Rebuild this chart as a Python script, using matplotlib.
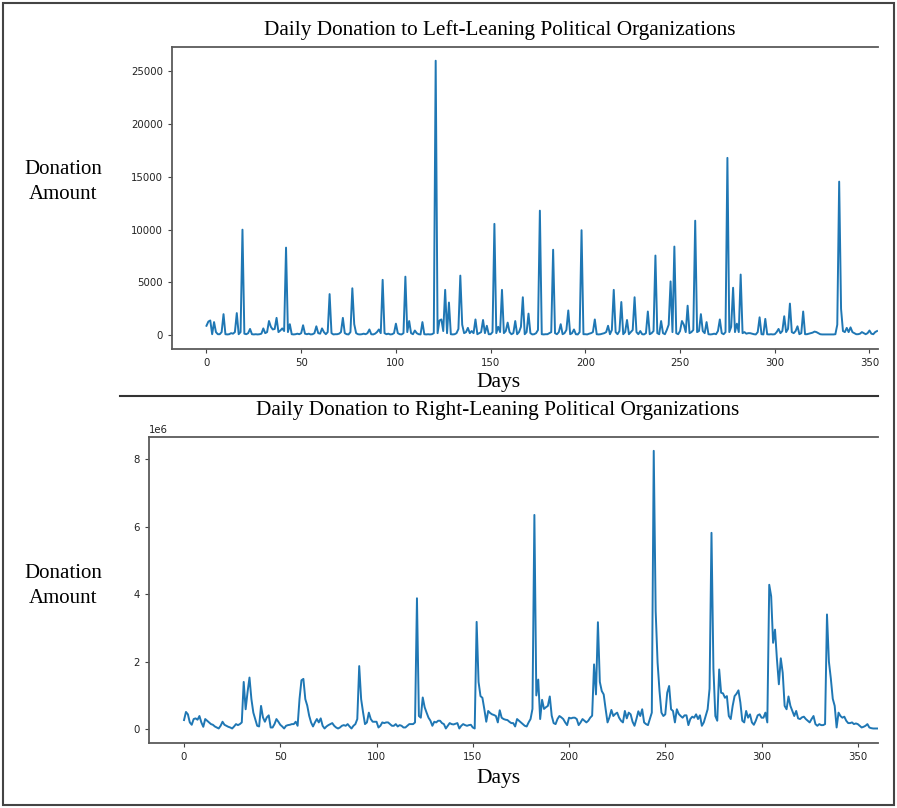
import numpy as np
import matplotlib
matplotlib.use("Agg")
import matplotlib.pyplot as plt
from matplotlib.lines import Line2D
from matplotlib.patches import Rectangle

# daily donations, left-leaning organisations (days 0..354, dollars)
left_donations = [
    900, 1300, 1400, 100, 1250, 300, 100, 100, 300, 2000,
    100, 80, 100, 200, 150, 300, 2100, 100, 300, 10000,
    150, 100, 200, 600, 100, 80, 100, 80, 100, 150,
    650, 200, 300, 1350, 800, 550, 600, 1650, 300, 450,
    650, 400, 8300, 300, 1050, 100, 80, 100, 150, 100,
    200, 950, 150, 100, 150, 80, 100, 200, 850, 200,
    150, 650, 300, 100, 300, 3900, 200, 80, 100, 100,
    150, 300, 1650, 200, 100, 80, 300, 4450, 1050, 200,
    100, 80, 100, 150, 100, 200, 550, 100, 80, 150,
    300, 550, 200, 5250, 200, 100, 150, 80, 100, 200,
    1100, 200, 100, 80, 200, 5550, 300, 1350, 200, 100,
    450, 200, 100, 80, 1250, 100, 80, 100, 80, 100,
    200, 26000, 200, 1400, 1500, 400, 4300, 200, 3100, 100,
    80, 100, 200, 600, 5650, 1000, 200, 300, 700, 200,
    400, 200, 1500, 100, 200, 300, 1450, 200, 900, 100,
    100, 300, 10550, 200, 800, 300, 4300, 200, 400, 1200,
    300, 100, 200, 1350, 100, 300, 800, 3600, 100, 300,
    2050, 200, 80, 100, 200, 500, 11800, 100, 80, 100,
    100, 200, 300, 8100, 200, 100, 300, 1050, 100, 200,
    500, 2350, 100, 200, 550, 100, 80, 300, 9950, 100,
    100, 80, 150, 200, 300, 1500, 100, 80, 100, 150,
    200, 300, 900, 100, 500, 4300, 300, 100, 400, 3150,
    100, 300, 1450, 100, 300, 500, 3600, 300, 100, 400,
    100, 80, 200, 2250, 100, 200, 400, 7550, 200, 100,
    1350, 200, 100, 500, 1000, 5100, 300, 8400, 200, 100,
    400, 1350, 1000, 300, 2800, 200, 300, 500, 10850, 300,
    400, 2000, 400, 200, 1250, 100, 80, 100, 150, 100,
    400, 1500, 200, 100, 300, 16800, 300, 800, 4500, 300,
    1100, 300, 5750, 200, 300, 150, 200, 200, 150, 100,
    80, 300, 1700, 100, 80, 1550, 100, 80, 100, 80,
    100, 300, 600, 200, 400, 1800, 300, 600, 3000, 300,
    200, 400, 850, 100, 200, 2250, 100, 100, 150, 200,
    250, 350, 300, 200, 100, 80, 80, 80, 80, 80,
    80, 80, 100, 1000, 14550, 2500, 400, 300, 700, 300,
    750, 300, 200, 100, 100, 150, 300, 200, 100, 200,
    450, 150, 100, 300, 400,
]

# daily donations, right-leaning organisations (days 0..360, millions of dollars)
right_donations_m = [
    0.27, 0.51, 0.44, 0.20, 0.13, 0.30, 0.32, 0.28, 0.39, 0.20,
    0.07, 0.30, 0.25, 0.20, 0.15, 0.13, 0.08, 0.05, 0.02, 0.10,
    0.22, 0.13, 0.10, 0.07, 0.05, 0.02, 0.08, 0.15, 0.12, 0.15,
    0.20, 1.40, 0.59, 1.10, 1.53, 0.89, 0.49, 0.30, 0.10, 0.08,
    0.69, 0.35, 0.22, 0.35, 0.41, 0.05, 0.05, 0.15, 0.30, 0.22,
    0.13, 0.08, 0.02, 0.10, 0.12, 0.13, 0.15, 0.15, 0.22, 0.10,
    0.90, 1.45, 1.49, 0.89, 0.70, 0.40, 0.20, 0.08, 0.20, 0.30,
    0.20, 0.32, 0.10, 0.02, 0.08, 0.12, 0.15, 0.18, 0.10, 0.05,
    0.02, 0.05, 0.10, 0.12, 0.10, 0.15, 0.08, 0.02, 0.10, 0.15,
    0.30, 1.87, 0.89, 0.50, 0.15, 0.20, 0.49, 0.30, 0.22, 0.22,
    0.22, 0.05, 0.10, 0.20, 0.18, 0.20, 0.20, 0.15, 0.10, 0.10,
    0.15, 0.08, 0.12, 0.10, 0.05, 0.05, 0.10, 0.15, 0.15, 0.15,
    0.20, 3.88, 0.39, 0.34, 0.94, 0.65, 0.49, 0.34, 0.25, 0.10,
    0.22, 0.20, 0.25, 0.25, 0.18, 0.15, 0.02, 0.10, 0.18, 0.15,
    0.14, 0.16, 0.18, 0.02, 0.10, 0.15, 0.12, 0.10, 0.12, 0.13,
    0.05, 0.02, 3.18, 1.40, 0.98, 0.93, 0.59, 0.22, 0.54, 0.48,
    0.44, 0.42, 0.39, 0.20, 0.56, 0.34, 0.30, 0.28, 0.27, 0.22,
    0.18, 0.18, 0.08, 0.30, 0.25, 0.20, 0.15, 0.10, 0.08, 0.20,
    0.30, 0.60, 6.35, 1.00, 1.47, 0.30, 0.87, 0.60, 0.65, 0.69,
    0.97, 0.40, 0.18, 0.15, 0.30, 0.39, 0.35, 0.30, 0.20, 0.12,
    0.34, 0.32, 0.34, 0.34, 0.30, 0.12, 0.20, 0.30, 0.25, 0.20,
    0.25, 0.34, 0.40, 1.92, 1.03, 3.17, 1.40, 1.13, 1.03, 0.60,
    0.20, 0.35, 0.57, 0.39, 0.45, 0.49, 0.34, 0.25, 0.20, 0.54,
    0.32, 0.49, 0.44, 0.22, 0.10, 0.30, 0.53, 0.39, 0.59, 0.20,
    0.15, 0.12, 0.30, 0.49, 8.25, 3.50, 1.97, 1.13, 0.49, 0.39,
    0.44, 1.08, 1.28, 0.59, 0.54, 0.20, 0.59, 0.45, 0.39, 0.34,
    0.41, 0.41, 0.12, 0.30, 0.37, 0.34, 0.44, 0.30, 0.41, 0.10,
    0.20, 0.39, 0.59, 1.20, 5.82, 1.80, 0.39, 0.25, 1.77, 1.08,
    1.06, 0.93, 0.98, 0.39, 0.30, 0.69, 0.98, 1.05, 1.15, 0.79,
    0.25, 0.20, 0.54, 0.34, 0.44, 0.20, 0.13, 0.25, 0.41, 0.44,
    0.34, 0.34, 0.49, 0.20, 4.28, 3.94, 2.56, 2.95, 2.07, 1.33,
    2.10, 1.67, 0.69, 0.59, 0.97, 0.69, 0.54, 0.39, 0.54, 0.32,
    0.30, 0.35, 0.37, 0.30, 0.25, 0.20, 0.30, 0.39, 0.15, 0.10,
    0.15, 0.12, 0.12, 0.15, 3.40, 2.00, 1.50, 0.90, 0.69, 0.05,
    0.49, 0.39, 0.34, 0.37, 0.25, 0.18, 0.18, 0.20, 0.15, 0.17,
    0.15, 0.10, 0.05, 0.07, 0.10, 0.15, 0.05, 0.03, 0.02, 0.02, 0.02,
]

x_ticks = [0, 50, 100, 150, 200, 250, 300, 350]
left_yticks = [0, 5000, 10000, 15000, 20000, 25000]
right_yticks = [0, 2e6, 4e6, 6e6, 8e6]

W, H = 897, 808
SERIF = "Liberation Serif"


def box(l, t, r, b):
    # pixel box -> figure fraction rect
    return [l / W, 1 - b / H, (r - l) / W, (b - t) / H]


fig = plt.figure(figsize=(W / 100, H / 100), dpi=100)

ax1 = fig.add_axes(box(172, 47, 878, 349))
ax2 = fig.add_axes(box(149, 437, 878, 743))

ax1.plot(np.arange(len(left_donations)), left_donations, color="#1f77b4", lw=1.4)
ax2.plot(np.arange(len(right_donations_m)), np.array(right_donations_m) * 1e6,
         color="#1f77b4", lw=1.4)

ax1.set_xlim(-18.2, 354.5)
ax1.set_ylim(-1300, 27300)
ax2.set_xlim(-18.2, 360.5)
ax2.set_ylim(-0.41e6, 8.66e6)
ax1.set_yticks(left_yticks)
ax2.set_yticks(right_yticks)

for ax in (ax1, ax2):
    ax.set_xticks(x_ticks)
    ax.spines["right"].set_visible(False)
    for s in ("top", "left", "bottom"):
        ax.spines[s].set_color("#5a5a5a")
        ax.spines[s].set_linewidth(1.3)
    ax.tick_params(labelsize=7.3, length=3, width=0.8, color="#444444",
                   labelcolor="#222222")
    ax.yaxis.get_offset_text().set_fontsize(7.3)

# titles and axis labels (drawn as figure text like the pasted screenshot)
fig.text(500 / W, 1 - 30 / H, "Daily Donation to Left-Leaning Political Organizations",
         ha="center", va="center", fontsize=15.3, family=SERIF)
fig.text(498 / W, 1 - 410 / H, "Daily Donation to Right-Leaning Political Organizations",
         ha="center", va="center", fontsize=15.3, family=SERIF)

for yc in (182, 586):
    fig.text(63 / W, 1 - yc / H, "Donation\nAmount", ha="center", va="center",
             fontsize=15, family=SERIF, linespacing=1.4)
for yc in (382, 778):
    fig.text(498 / W, 1 - yc / H, "Days", ha="center", va="center",
             fontsize=15.5, family=SERIF)

# separator between the two charts and outer frame
fig.add_artist(Line2D([120 / W, 878 / W], [1 - 396 / H, 1 - 396 / H],
                      color="#333333", lw=1.5))
fig.add_artist(Rectangle((3 / W, 3 / H), 1 - 6 / W, 1 - 6 / H, fill=False,
                         edgecolor="#444444", lw=1.5, transform=fig.transFigure))

fig.savefig("out.png", dpi=100)
